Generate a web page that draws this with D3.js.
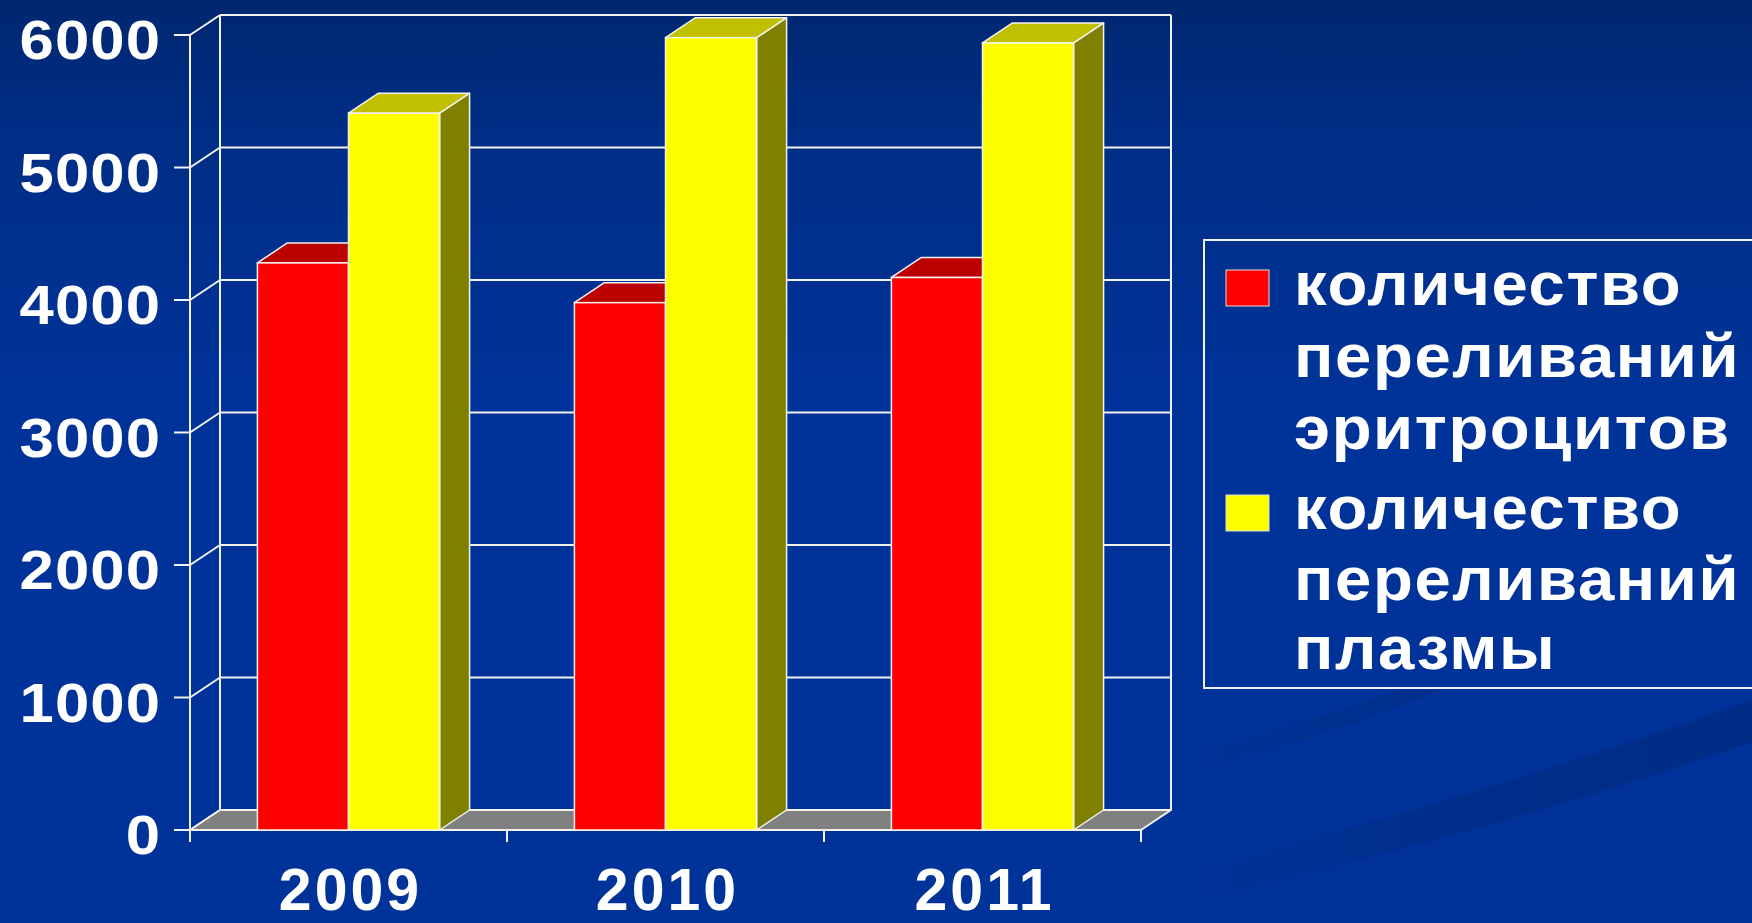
<!DOCTYPE html>
<html>
<head>
<meta charset="utf-8">
<script src="https://cdn.jsdelivr.net/npm/d3@7"></script>
<style>
html,body{margin:0;padding:0;background:#003399;overflow:hidden;}
svg{display:block;}
text{font-family:"Liberation Sans",Arial,sans-serif;font-weight:bold;fill:#ffffff;}
</style>
</head>
<body>
<svg id="chart" width="1752" height="923"></svg>
<script>
// ---- data ----
const years = ["2009", "2010", "2011"];
const seriesNames = ["количество переливаний эритроцитов", "количество переливаний плазмы"];
const legendLines = [["количество", "переливаний", "эритроцитов"], ["количество", "переливаний", "плазмы"]];
const redValues = [4280, 3980, 4170];
const yellowValues = [5410, 5980, 5940];
const yTicks = [0, 1000, 2000, 3000, 4000, 5000, 6000];

// ---- styles ----
const frontColors = ["#ff0000", "#ffff00"];
const topColors = ["#bb0000", "#c0c000"];
const sideColors = ["#990000", "#808000"];
const gridColor = "#f2f2f2";

const svg = d3.select("#chart");
const W = 1752, H = 923;

// background
const defs = svg.append("defs");
const bg = defs.append("linearGradient").attr("id", "bg").attr("x1", 0).attr("y1", 0).attr("x2", 0).attr("y2", 1);
bg.append("stop").attr("offset", 0).attr("stop-color", "#00276f");
bg.append("stop").attr("offset", 0.13).attr("stop-color", "#002d84");
bg.append("stop").attr("offset", 0.42).attr("stop-color", "#003399");
bg.append("stop").attr("offset", 1).attr("stop-color", "#003399");
svg.append("rect").attr("width", W).attr("height", H).attr("fill", "url(#bg)");
// subtle template swooshes
const sw = defs.append("linearGradient").attr("id", "sw").attr("x1", 0).attr("y1", 0).attr("x2", 1).attr("y2", 0);
sw.append("stop").attr("offset", 0).attr("stop-color", "#002a80").attr("stop-opacity", 0);
sw.append("stop").attr("offset", 0.5).attr("stop-color", "#002a80").attr("stop-opacity", 0.6);
sw.append("stop").attr("offset", 1).attr("stop-color", "#002a80").attr("stop-opacity", 0.8);
svg.append("path").attr("d", "M1180,875 Q1500,790 1752,700 L1752,742 Q1500,830 1180,905 Z").attr("fill", "url(#sw)");
svg.append("path").attr("d", "M1180,775 Q1320,740 1440,690 L1400,690 Q1300,725 1180,755 Z").attr("fill", "url(#sw)").attr("opacity", 0.6);

// ---- geometry ----
const x0 = 190, x1 = 1141, yBase = 830, yTop = 35;
const DX = 30, DY = -20;

const y = d3.scaleLinear().domain([0, 6000]).range([yBase, yTop]);
const xBand = d3.scaleBand().domain(years).range([x0, x1]).paddingInner(0).paddingOuter(0);
const xSeries = d3.scaleBand().domain([0, 1]).range([0, xBand.bandwidth()]).paddingInner(0).paddingOuter(0.74);

const g = svg.append("g");

// back wall gridlines
g.selectAll("line.grid").data(yTicks).join("line")
  .attr("x1", x0 + DX).attr("x2", x1 + DX)
  .attr("y1", d => y(d) + DY).attr("y2", d => y(d) + DY)
  .attr("stroke", gridColor).attr("stroke-width", 2);
// side wall diagonals
g.selectAll("line.diag").data(yTicks).join("line")
  .attr("x1", x0).attr("x2", x0 + DX)
  .attr("y1", d => y(d)).attr("y2", d => y(d) + DY)
  .attr("stroke", gridColor).attr("stroke-width", 2);
// back wall verticals
g.append("line").attr("x1", x0 + DX).attr("x2", x0 + DX).attr("y1", y(6000) + DY).attr("y2", y(0) + DY)
  .attr("stroke", gridColor).attr("stroke-width", 2);
g.append("line").attr("x1", x1 + DX).attr("x2", x1 + DX).attr("y1", y(6000) + DY).attr("y2", y(0) + DY)
  .attr("stroke", gridColor).attr("stroke-width", 2);

// floor
g.append("path")
  .attr("d", `M${x0},${y(0)} L${x1},${y(0)} L${x1 + DX},${y(0) + DY} L${x0 + DX},${y(0) + DY} Z`)
  .attr("fill", "#808080").attr("stroke", gridColor).attr("stroke-width", 2).attr("stroke-linejoin", "round");

// front axis line
g.append("line").attr("x1", x0).attr("x2", x0).attr("y1", y(6000)).attr("y2", y(0) + 12)
  .attr("stroke", gridColor).attr("stroke-width", 2);
// y ticks
g.selectAll("line.ytick").data(yTicks).join("line")
  .attr("x1", x0 - 16).attr("x2", x0)
  .attr("y1", d => y(d)).attr("y2", d => y(d))
  .attr("stroke", gridColor).attr("stroke-width", 2);
// x ticks at category boundaries
const xBounds = years.map(d => xBand(d)).concat([x1]);
g.selectAll("line.xtick").data(xBounds).join("line")
  .attr("x1", d => d).attr("x2", d => d)
  .attr("y1", y(0)).attr("y2", y(0) + 12)
  .attr("stroke", gridColor).attr("stroke-width", 2);

// bars
const seriesValues = [redValues, yellowValues];
const barData = [];
years.forEach((yr, i) => {
  [0, 1].forEach(s => barData.push({ yr, s, v: seriesValues[s][i] }));
});
const bw = xSeries.bandwidth();
const bars = g.selectAll("g.bar").data(barData).join("g").attr("class", "bar");
bars.each(function (d) {
  const sel = d3.select(this);
  const L = xBand(d.yr) + xSeries(d.s), R = L + bw, T = y(d.v), B = y(0);
  sel.append("path")
    .attr("d", `M${R},${B} L${R},${T} L${R + DX},${T + DY} L${R + DX},${B + DY} Z`)
    .attr("fill", sideColors[d.s]).attr("stroke", gridColor).attr("stroke-width", 1.5).attr("stroke-linejoin", "round");
  sel.append("path")
    .attr("d", `M${L},${T} L${R},${T} L${R + DX},${T + DY} L${L + DX},${T + DY} Z`)
    .attr("fill", topColors[d.s]).attr("stroke", gridColor).attr("stroke-width", 1.5).attr("stroke-linejoin", "round");
  sel.append("rect")
    .attr("x", L).attr("y", T).attr("width", bw).attr("height", B - T)
    .attr("fill", frontColors[d.s]).attr("stroke", gridColor).attr("stroke-width", 1.5);
});

// y labels
g.selectAll("text.ylab").data(yTicks).join("text")
  .attr("transform", d => `translate(161,${y(d) + 4}) scale(1.1,1)`)
  .attr("x", 0).attr("y", 0).attr("dy", "0.36em")
  .attr("text-anchor", "end").attr("font-size", 56).attr("letter-spacing", 1)
  .text(d => d);

// x labels
g.selectAll("text.xlab").data(years).join("text")
  .attr("x", d => xBand(d) + xBand.bandwidth() / 2 + 2).attr("y", 910)
  .attr("text-anchor", "middle").attr("font-size", 59).attr("letter-spacing", 3)
  .text(d => d);

// legend
const lg = svg.append("g");
lg.append("rect").attr("x", 1204).attr("y", 240).attr("width", 600).attr("height", 448)
  .attr("fill", "none").attr("stroke", "#f2f2f2").attr("stroke-width", 2);
const legendTop = [270, 495];
const lineBase = [[305, 377, 449], [529, 600, 669]];
seriesNames.forEach((name, s) => {
  lg.append("rect").attr("x", 1226).attr("y", legendTop[s]).attr("width", 43).attr("height", 36)
    .attr("fill", frontColors[s]).attr("stroke", "#dddddd").attr("stroke-width", 1);
  const t = lg.append("text").attr("font-size", 61).attr("letter-spacing", 1.5)
    .attr("transform", "translate(1294,0) scale(1.07,1)");
  legendLines[s].forEach((ln, k) => {
    t.append("tspan").attr("x", 0).attr("y", lineBase[s][k]).text(ln);
  });
});
</script>
</body>
</html>
